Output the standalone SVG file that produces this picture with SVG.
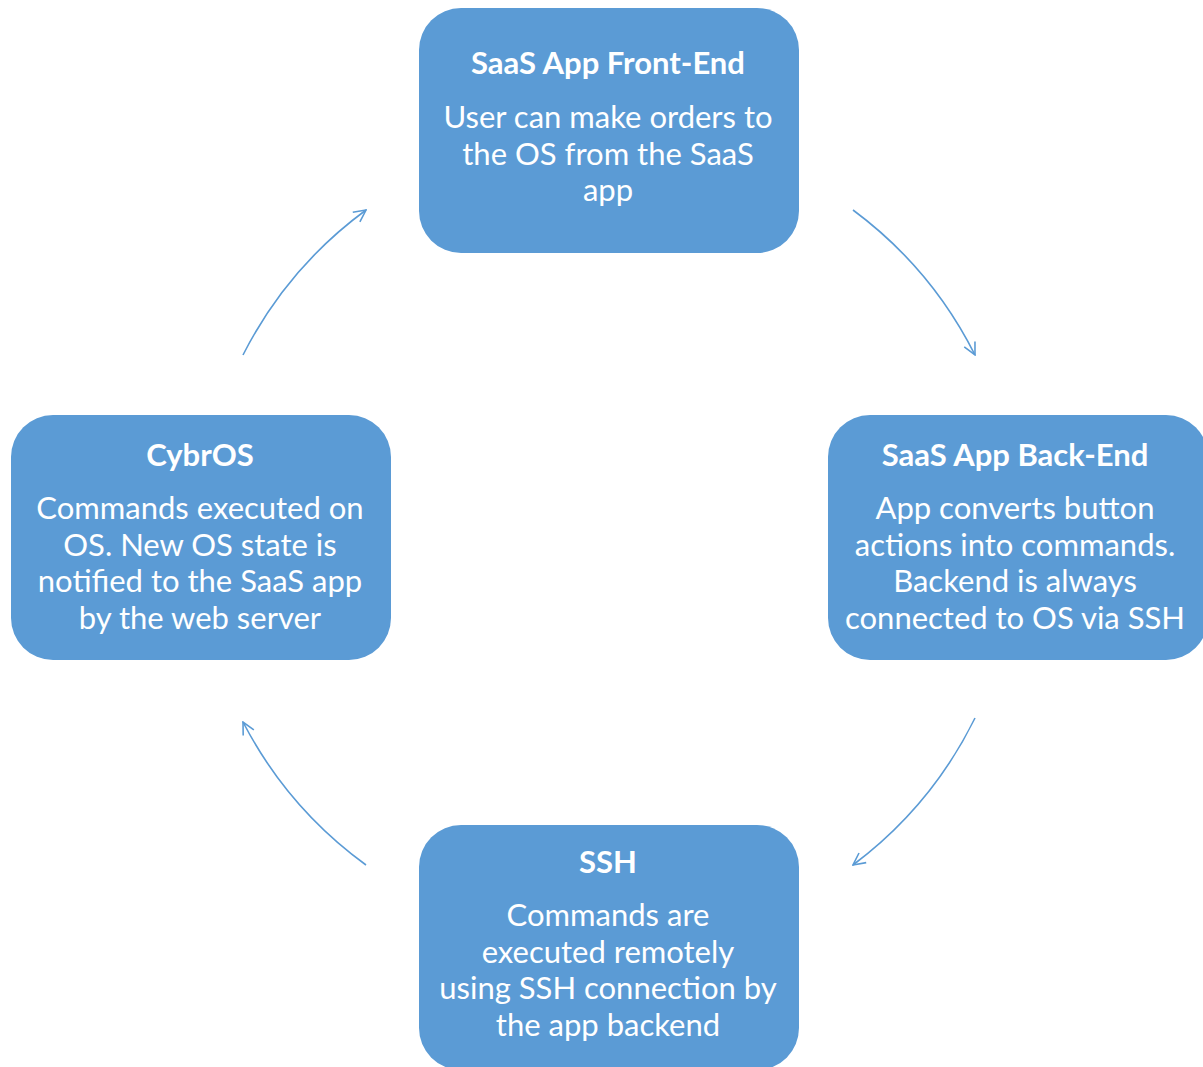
<svg xmlns="http://www.w3.org/2000/svg" width="1203" height="1067" viewBox="0 0 1203 1067">
  <style>
    .box { fill: #5B9BD5; }
    .title { font-family: Lato, "Open Sans", sans-serif; font-weight: bold; font-size: 31px; fill: #ffffff; text-anchor: middle; }
    .body { font-family: Lato, "Open Sans", sans-serif; font-size: 31px; fill: #ffffff; text-anchor: middle; }
    .arc { fill: none; stroke: #5B9BD5; stroke-width: 1.6; marker-end: url(#head); }
  </style>
  <defs>
    <marker id="head" viewBox="0 0 14 14" refX="13" refY="7" markerWidth="14" markerHeight="14" markerUnits="userSpaceOnUse" orient="auto">
      <path d="M1,1 L13,7 L1,13" fill="none" stroke="#5B9BD5" stroke-width="1.6"/>
    </marker>
  </defs>
  <rect width="1203" height="1067" fill="#ffffff"/>

  <!-- cycle connectors: clockwise arcs around the centre -->
  <g id="connectors">
    <path class="arc" d="M853,210 A410,410 0 0 1 975,355"/>
    <path class="arc" d="M975,718 A410,410 0 0 1 853,865"/>
    <path class="arc" d="M366,865 A410,410 0 0 1 243,722"/>
    <path class="arc" d="M243,355 A410,410 0 0 1 366,210"/>
  </g>

  <g id="frontend">
    <rect class="box" x="419" y="8" width="380" height="245" rx="42"/>
    <text class="title" x="608" y="74">SaaS App Front-End</text>
    <text class="body" x="608" y="128">User can make orders to</text>
    <text class="body" x="608" y="165">the OS from the SaaS</text>
    <text class="body" x="608" y="201">app</text>
  </g>

  <g id="backend">
    <rect class="box" x="828" y="415" width="380" height="245" rx="42"/>
    <text class="title" x="1015" y="466">SaaS App Back-End</text>
    <text class="body" x="1015" y="519">App converts button</text>
    <text class="body" x="1015" y="556">actions into commands.</text>
    <text class="body" x="1015" y="592">Backend is always</text>
    <text class="body" x="1015" y="629">connected to OS via SSH</text>
  </g>

  <g id="ssh">
    <rect class="box" x="419" y="825" width="380" height="245" rx="42"/>
    <text class="title" x="608" y="873">SSH</text>
    <text class="body" x="608" y="926">Commands are</text>
    <text class="body" x="608" y="963">executed remotely</text>
    <text class="body" x="608" y="999">using SSH connection by</text>
    <text class="body" x="608" y="1036">the app backend</text>
  </g>

  <g id="cybros">
    <rect class="box" x="11" y="415" width="380" height="245" rx="42"/>
    <text class="title" x="200" y="466">CybrOS</text>
    <text class="body" x="200" y="519">Commands executed on</text>
    <text class="body" x="200" y="556">OS. New OS state is</text>
    <text class="body" x="200" y="592">notified to the SaaS app</text>
    <text class="body" x="200" y="629">by the web server</text>
  </g>
</svg>
